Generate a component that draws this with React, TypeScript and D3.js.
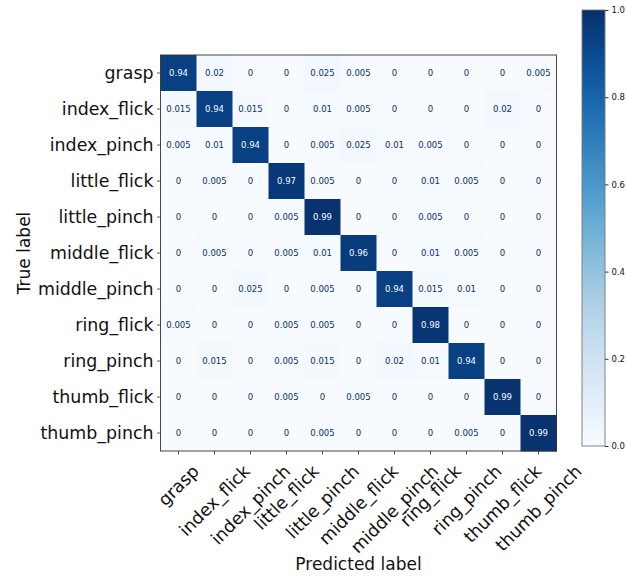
import React, { useEffect, useRef } from 'react';
import * as d3 from 'd3';

const labels = [
  'grasp', 'index_flick', 'index_pinch', 'little_flick', 'little_pinch',
  'middle_flick', 'middle_pinch', 'ring_flick', 'ring_pinch', 'thumb_flick', 'thumb_pinch',
];

// rows = true label, cols = predicted label
const matrix = [
  [0.94, 0.02, 0, 0, 0.025, 0.005, 0, 0, 0, 0, 0.005],
  [0.015, 0.94, 0.015, 0, 0.01, 0.005, 0, 0, 0, 0.02, 0],
  [0.005, 0.01, 0.94, 0, 0.005, 0.025, 0.01, 0.005, 0, 0, 0],
  [0, 0.005, 0, 0.97, 0.005, 0, 0, 0.01, 0.005, 0, 0],
  [0, 0, 0, 0.005, 0.99, 0, 0, 0.005, 0, 0, 0],
  [0, 0.005, 0, 0.005, 0.01, 0.96, 0, 0.01, 0.005, 0, 0],
  [0, 0, 0.025, 0, 0.005, 0, 0.94, 0.015, 0.01, 0, 0],
  [0.005, 0, 0, 0.005, 0.005, 0, 0, 0.98, 0, 0, 0],
  [0, 0.015, 0, 0.005, 0.015, 0, 0.02, 0.01, 0.94, 0, 0],
  [0, 0, 0, 0.005, 0, 0.005, 0, 0, 0, 0.99, 0],
  [0, 0, 0, 0, 0.005, 0, 0, 0, 0.005, 0, 0.99],
];

const cbarTicks = [0, 0.2, 0.4, 0.6, 0.8, 1.0];

const W = 626, H = 578;
const FONT = 'DejaVu Sans';

export default function App() {
  const ref = useRef<SVGSVGElement>(null);

  useEffect(() => {
    const svg = d3.select(ref.current);
    svg.selectAll('*').remove();

    const left = 160.5, top = 55, size = 396;
    const x = d3.scaleBand().domain(labels).range([left, left + size]);
    const y = d3.scaleBand().domain(labels).range([top, top + size]);
    const color = d3.scaleSequential(d3.interpolateBlues).domain([0, 1]);

    const g = svg.append('g');

    // cells
    matrix.forEach((row, i) => {
      row.forEach((v, j) => {
        g.append('rect')
          .attr('x', x(labels[j])!)
          .attr('y', y(labels[i])!)
          .attr('width', x.bandwidth() + 0.5)
          .attr('height', y.bandwidth() + 0.5)
          .attr('fill', color(v));
        g.append('text')
          .attr('x', x(labels[j])! + x.bandwidth() / 2)
          .attr('y', y(labels[i])! + y.bandwidth() / 2)
          .attr('dy', '0.35em')
          .attr('text-anchor', 'middle')
          .attr('font-family', FONT)
          .attr('font-size', 8.5)
          .attr('fill', v > 0.5 ? color(0) : color(1))
          .text(String(v));
      });
    });

    // frame
    g.append('rect')
      .attr('x', left).attr('y', top)
      .attr('width', size).attr('height', size)
      .attr('fill', 'none').attr('stroke', '#333').attr('stroke-width', 0.9);

    const fs = 17.4;

    // y axis ticks + labels
    labels.forEach(l => {
      const cy = y(l)! + y.bandwidth() / 2;
      g.append('line').attr('x1', left - 3.5).attr('x2', left)
        .attr('y1', cy).attr('y2', cy).attr('stroke', '#333').attr('stroke-width', 0.8);
      g.append('text')
        .attr('x', left - 7).attr('y', cy).attr('dy', '0.35em')
        .attr('text-anchor', 'end')
        .attr('font-family', FONT).attr('font-size', fs).attr('fill', '#111')
        .text(l);
    });

    // x axis ticks + rotated labels (matplotlib rotation=45, ha=center)
    const h = fs * 1.16;
    labels.forEach(l => {
      const cx = x(l)! + x.bandwidth() / 2;
      const bottom = top + size;
      g.append('line').attr('x1', cx).attr('x2', cx)
        .attr('y1', bottom).attr('y2', bottom + 3.5).attr('stroke', '#333').attr('stroke-width', 0.8);
      const t = g.append('text')
        .attr('text-anchor', 'middle')
        .attr('font-family', FONT).attr('font-size', fs).attr('fill', '#111')
        .attr('dy', '0.35em')
        .text(l);
      const w = (t.node() as SVGTextElement).getComputedTextLength();
      const cyText = bottom + 10 + ((w + h) * Math.SQRT1_2) / 2;
      t.attr('transform', `translate(${cx},${cyText}) rotate(-45)`);
    });

    // axis titles
    g.append('text')
      .attr('x', left + size / 2).attr('y', 570)
      .attr('text-anchor', 'middle')
      .attr('font-family', FONT).attr('font-size', 17).attr('fill', '#111')
      .text('Predicted label');
    g.append('text')
      .attr('transform', `translate(30,${top + size / 2}) rotate(-90)`)
      .attr('text-anchor', 'middle')
      .attr('font-family', FONT).attr('font-size', 17).attr('fill', '#111')
      .text('True label');

    // colorbar
    const cbX = 582, cbW = 23, cbTop = 10, cbBot = 446;
    const cy = d3.scaleLinear().domain([0, 1]).range([cbBot, cbTop]);
    const defs = svg.append('defs');
    const grad = defs.append('linearGradient').attr('id', 'cbgrad')
      .attr('x1', 0).attr('y1', 1).attr('x2', 0).attr('y2', 0);
    d3.range(0, 1.0001, 0.05).forEach(s => {
      grad.append('stop').attr('offset', s).attr('stop-color', color(s));
    });
    g.append('rect')
      .attr('x', cbX).attr('y', cbTop).attr('width', cbW).attr('height', cbBot - cbTop)
      .attr('fill', 'url(#cbgrad)').attr('stroke', '#777').attr('stroke-width', 0.9);
    const axis = d3.axisRight(cy).tickValues(cbarTicks).tickFormat(d3.format('.1f')).tickSize(3.5).tickPadding(3);
    const ag = g.append('g').attr('transform', `translate(${cbX + cbW},0)`).call(axis);
    ag.select('.domain').remove();
    ag.selectAll('line').attr('stroke', '#333');
    ag.selectAll('text').attr('font-family', FONT).attr('font-size', 8.5).attr('fill', '#111');
  }, []);

  return <svg ref={ref} width={W} height={H} style={{ display: 'block', position: 'absolute', left: 0, top: 0 }} />;
}
